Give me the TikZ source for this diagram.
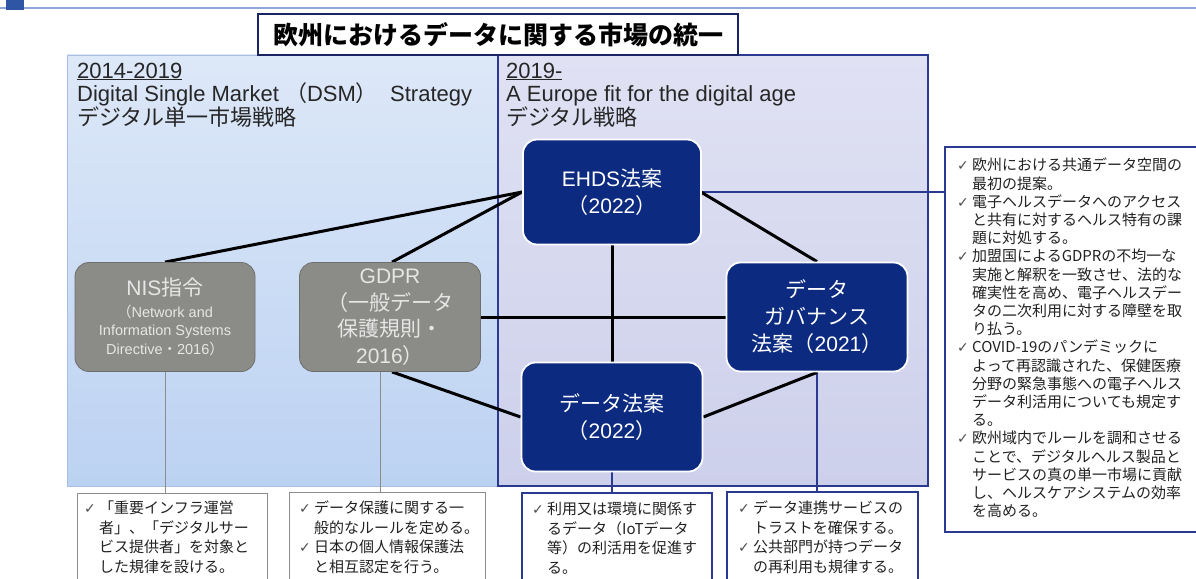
\documentclass[tikz,border=0pt]{standalone}
\usepackage{fontspec}
\setmainfont{Noto Sans CJK JP}
\newfontfamily\lat{Liberation Sans}
\newfontfamily\dv{DejaVu Sans}
\usetikzlibrary{calc}
\definecolor{navy}{HTML}{0C2A80}
\definecolor{framenavy}{HTML}{2B3A90}
\definecolor{titlenavy}{HTML}{1B2566}
\definecolor{greyfill}{HTML}{8B8B87}
\definecolor{greyedge}{HTML}{6F6F6B}
\definecolor{greyline}{HTML}{8C8C8C}
\definecolor{greytext}{HTML}{E6E6E6}
\definecolor{txt}{HTML}{222222}
\definecolor{leftTop}{HTML}{DDE8F8}
\definecolor{leftBot}{HTML}{BCD2F2}
\definecolor{leftEdge}{HTML}{A9BEE2}
\definecolor{rightTop}{HTML}{E0E1F3}
\definecolor{rightBot}{HTML}{CDD0EB}
\definecolor{topline}{HTML}{8FA8DC}
\definecolor{topblock}{HTML}{2F55A5}
\newcommand{\ck}{\makebox[15pt][l]{\dv\fontsize{14}{14}\selectfont\color{txt!80}✓}}
\newcommand{\ind}{\hspace*{15pt}}
\pgfdeclarelayer{back}
\pgfdeclarelayer{mid}
\pgfsetlayers{back,mid,main}
\tikzset{
  law/.style={draw=white, line width=1.8pt, fill=navy, rounded corners=14pt,
    text=white, align=center, inner sep=0pt,
    font=\fontsize{21}{27}\selectfont},
  oldlaw/.style={draw=greyedge, line width=0.8pt, fill=greyfill, rounded corners=14pt,
    text=greytext, align=center, inner sep=0pt,
    font=\fontsize{21}{26.5}\selectfont},
  conn/.style={black, line width=3pt},
  thinnavy/.style={framenavy, line width=1.2pt},
  thingrey/.style={greyline, line width=0.9pt},
  notebox/.style={fill=white, line width=1pt},
  notetext/.style={anchor=north west, inner sep=0pt, align=left, text=txt,
    font=\fontsize{15}{19.5}\selectfont},
  head/.style={anchor=base west, inner sep=0pt, text=black!85,
    font=\fontsize{22}{22}\selectfont}
}
\begin{document}
\begin{tikzpicture}[x=1pt,y=-1pt]
\useasboundingbox (0,0) rectangle (1196,578);

% background, top band, panels
\begin{pgfonlayer}{back}
\fill[white] (0,0) rectangle (1196,578);
\draw[topline, line width=2pt] (0,8) -- (1196,8);
\fill[topblock] (6,0) rectangle (24,10);
\shade[top color=leftTop, bottom color=leftBot] (67,55) rectangle (500,486);
\draw[leftEdge, line width=0.6pt] (67,55) rectangle (500,486);
\shade[top color=rightTop, bottom color=rightBot] (498,55) rectangle (928,486);
\draw[framenavy, line width=1.2pt] (498,55) rectangle (928,486);
\end{pgfonlayer}

% title
\node[draw=titlenavy, line width=2.5pt, fill=white, minimum width=480pt, minimum height=41pt,
  inner sep=0pt, font=\fontsize{25}{25}\selectfont\bfseries] (title) at (498,34.5)
  {欧州におけるデータに関する市場の統一};

% panel headers
\node[head] (lh1) at (77,78) {\lat\underline{2014-2019}};
\node[head] (lh2) at (77,101) {{\lat Digital Single Market }（{\lat DSM}）{\lat\ \ Strategy}};
\node[head] (lh3) at (77,125) {デジタル単一市場戦略};
\node[head] (rh1) at (506,78) {\lat\underline{2019-}};
\node[head] (rh2) at (506,101) {\lat A Europe fit for the digital age};
\node[head] (rh3) at (506,125) {デジタル戦略};

% law nodes
\node[law, minimum width=178pt, minimum height=105pt] (ehds) at (612,192)
  {{\lat EHDS}法案\\（{\lat 2022}）};
\node[law, minimum width=181pt, minimum height=109pt] (gov) at (817,317)
  {データ\\ガバナンス\\法案（{\lat 2021}）};
\node[law, minimum width=181pt, minimum height=109pt] (data) at (612,417)
  {データ法案\\（{\lat 2022}）};
\node[oldlaw, minimum width=180pt, minimum height=109pt,
  font=\fontsize{14.5}{18.5}\selectfont] (nis) at (165,317)
  {{\fontsize{21}{21}\selectfont{\lat NIS}指令}\\[3pt]
   （{\lat Network and}\\
   {\lat Information Systems}\\
   {\lat Directive}・{\lat 2016}）};
\node[oldlaw, minimum width=181pt, minimum height=109pt] (gdpr) at (390,317)
  {{\lat GDPR}\\（一般データ\\保護規則・\\{\lat 2016}）};

% note boxes
\node[notebox, draw=greyline, minimum width=190pt, minimum height=100pt, inner sep=0pt] (b1) at (172,543) {};
\node[notebox, draw=greyline, minimum width=196pt, minimum height=100pt, inner sep=0pt] (b2) at (387,542) {};
\node[notebox, draw=framenavy, line width=1.4pt, minimum width=190pt, minimum height=100pt, inner sep=0pt] (b3) at (617,543) {};
\node[notebox, draw=framenavy, line width=1.4pt, minimum width=191pt, minimum height=100pt, inner sep=0pt] (b4) at (822.5,542) {};
\node[notebox, draw=framenavy, line width=2pt, minimum width=260pt, minimum height=385pt, inner sep=0pt] (r) at (1075,339.5) {};

\node[notetext] (t1) at (84,501)
  {\ck 「重要インフラ運営\\
   \ind 者」、「デジタルサー\\
   \ind ビス提供者」を対象と\\
   \ind した規律を設ける。};
\node[notetext] (t2) at (299,501)
  {\ck データ保護に関する一\\
   \ind 般的なルールを定める。\\
   \ck 日本の個人情報保護法\\
   \ind と相互認定を行う。};
\node[notetext] (t3) at (532,502)
  {\ck 利用又は環境に関係す\\
   \ind るデータ（IoTデータ\\
   \ind 等）の利活用を促進す\\
   \ind る。};
\node[notetext] (t4) at (738,501)
  {\ck データ連携サービスの\\
   \ind トラストを確保する。\\
   \ck 公共部門が持つデータ\\
   \ind の再利用も規律する。};
\node[notetext, font=\fontsize{15}{18.2}\selectfont] (t5) at (957,158)
  {\ck 欧州における共通データ空間の\\
   \ind 最初の提案。\\
   \ck 電子ヘルスデータへのアクセス\\
   \ind と共有に対するヘルス特有の課\\
   \ind 題に対処する。\\
   \ck 加盟国によるGDPRの不均一な\\
   \ind 実施と解釈を一致させ、法的な\\
   \ind 確実性を高め、電子ヘルスデー\\
   \ind タの二次利用に対する障壁を取\\
   \ind り払う。\\
   \ck COVID-19のパンデミックに\\
   \ind よって再認識された、保健医療\\
   \ind 分野の緊急事態への電子ヘルス\\
   \ind データ利活用についても規定す\\
   \ind る。\\
   \ck 欧州域内でルールを調和させる\\
   \ind ことで、デジタルヘルス製品と\\
   \ind サービスの真の単一市場に貢献\\
   \ind し、ヘルスケアシステムの効率\\
   \ind を高める。};

% connectors
\begin{pgfonlayer}{mid}
\draw[thingrey] (nis.south) -- (nis.south |- b1.north);
\draw[thingrey] ([xshift=-10pt]gdpr.south) -- ([xshift=-10pt]gdpr.south |- b2.north);
\draw[thinnavy] (data.south) -- (data.south |- b3.north);
\draw[thinnavy] (gov.south) -- (gov.south |- b4.north);
\draw[thinnavy] (ehds.east) -- (ehds.east -| r.west);
\draw[conn] (nis.north) -- (ehds.west);
\draw[conn] ([xshift=2pt]gdpr.north) -- (ehds.west);
\draw[conn] (gdpr.east) -- (gov.west);
\draw[conn] (ehds.south) -- (data.north);
\draw[conn] ([xshift=-1pt]ehds.east) -- (gov.north);
\draw[conn] (gov.south) -- (data.east);
\draw[conn] ([xshift=2pt]gdpr.south) -- (data.west);
\end{pgfonlayer}
\end{tikzpicture}
\end{document}
